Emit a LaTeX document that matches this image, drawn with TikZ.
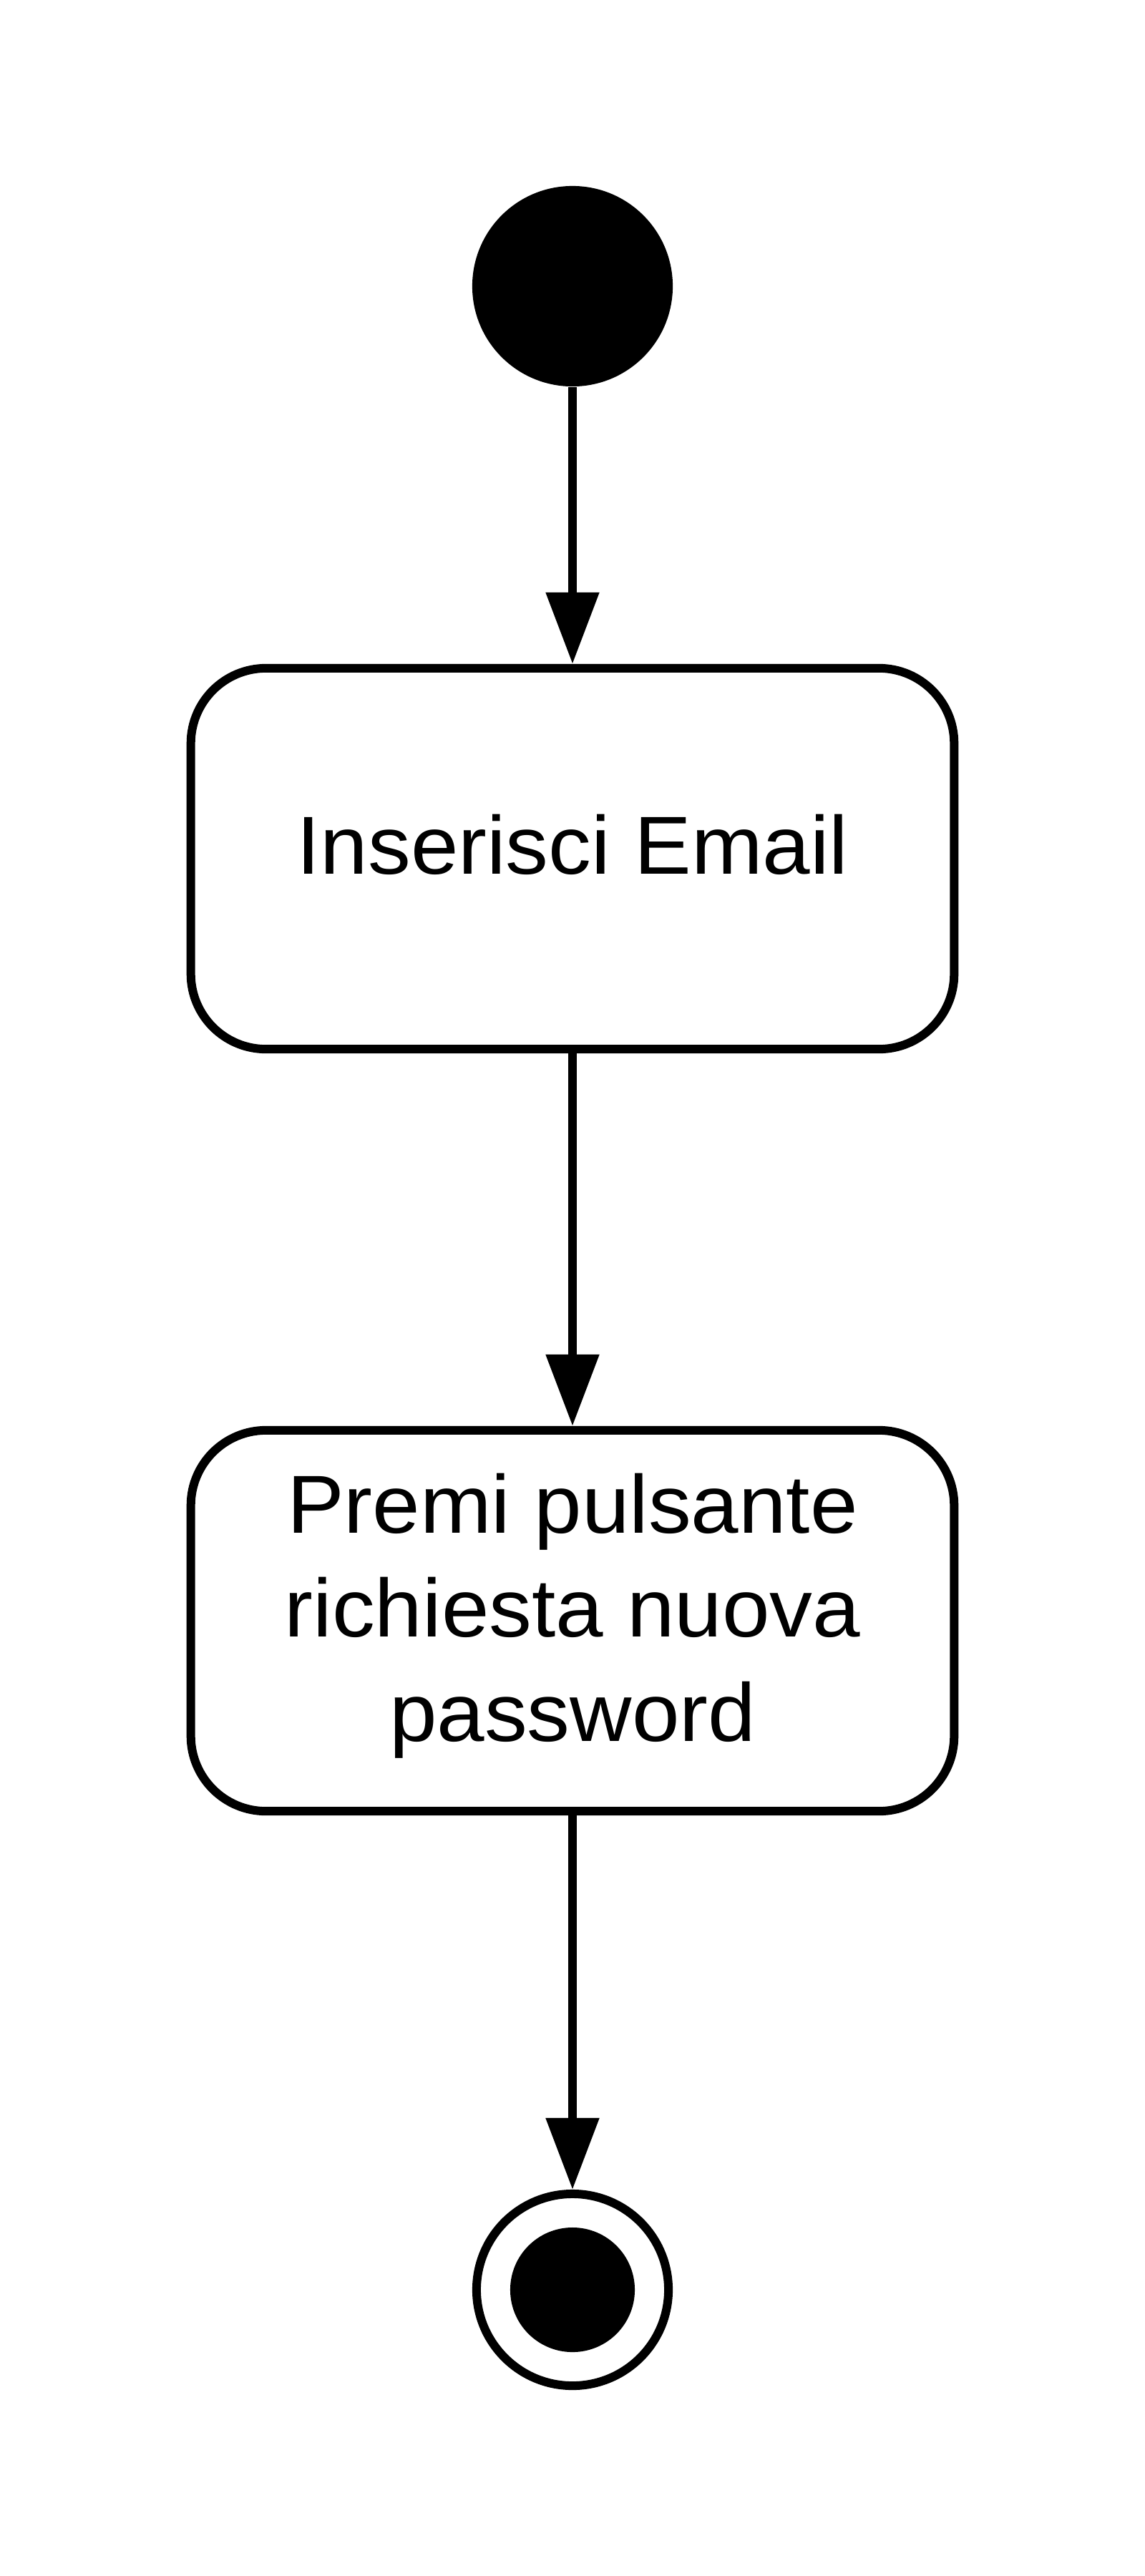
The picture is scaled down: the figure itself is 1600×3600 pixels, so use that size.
\documentclass[tikz,border=0pt]{standalone}
\usepackage{fontspec}
\setmainfont[FakeStretch=1.04]{Liberation Sans}
\usetikzlibrary{arrows.meta}
\begin{document}
\begin{tikzpicture}[x=0.01cm,y=-0.01cm,
  lw/.style={line width=0.12cm},
  startnode/.style={circle,fill=black,minimum size=2.8cm,inner sep=0pt},
  actbox/.style={draw,lw,rounded corners=1.05cm,minimum width=10.66cm,minimum height=5.32cm,inner sep=0pt},
  endring/.style={circle,draw,lw,minimum size=2.68cm,inner sep=0pt},
  enddot/.style={circle,fill=black,minimum size=1.74cm,inner sep=0pt},
  txt/.style={align=center,inner sep=0pt,font=\fontsize{32.7pt}{41.3pt}\selectfont},
  conn/.style={lw,-{Triangle[length=1cm,width=0.72cm]}}]
\useasboundingbox (0,0) rectangle (1600,3600);
\node[startnode] (s) at (800,400) {};
\node[actbox] (b1) at (800,1200) {};
\node[txt] (t1) at (800,1180) {Inserisci Email};
\node[actbox] (b2) at (800,2265) {};
\node[txt] (t2) at (800,2258) {Premi pulsante\\richiesta nuova\\password};
\node[endring] (e) at (800,3200) {};
\node[enddot] (ed) at (800,3200) {};
\draw[conn] (s) -- (b1);
\draw[conn] (b1) -- (b2);
\draw[conn] (b2) -- (e);
\end{tikzpicture}
\end{document}
